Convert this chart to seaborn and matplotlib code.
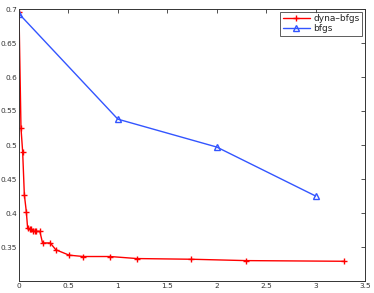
import matplotlib
matplotlib.use("Agg")
import matplotlib.pyplot as plt
import seaborn as sns

# values
dyna_x = [0.0, 0.02, 0.037, 0.054, 0.074, 0.087, 0.107, 0.12, 0.138, 0.161,
          0.174, 0.211, 0.238, 0.316, 0.372, 0.507, 0.651, 0.922, 1.194,
          1.744, 2.294, 3.29]
dyna_y = [0.695, 0.525, 0.490, 0.427, 0.402, 0.378, 0.377, 0.376, 0.374, 0.373,
          0.373, 0.373, 0.356, 0.356, 0.346, 0.338, 0.336, 0.336, 0.333,
          0.332, 0.330, 0.329]
bfgs_x = [0, 1, 2, 3]
bfgs_y = [0.693, 0.538, 0.497, 0.425]

sns.set_style("white")
plt.rcParams["font.family"] = ["DejaVu Sans"]
plt.rcParams["xtick.direction"] = "in"
plt.rcParams["ytick.direction"] = "in"

red = "#ff0000"
blue = "#3355ff"

fig = plt.figure(figsize=(3.74, 2.93), dpi=100)
ax = fig.add_axes([19 / 374, 12 / 293, 346 / 374, 272 / 293])

sns.lineplot(x=dyna_x, y=dyna_y, color=red, marker="+", sort=False,
             estimator=None, ax=ax, linewidth=1.0, markersize=5,
             markeredgewidth=1.0, markeredgecolor=red, label="dyna\u2013bfgs")
sns.lineplot(x=bfgs_x, y=bfgs_y, color=blue, marker="^", sort=False,
             estimator=None, ax=ax, linewidth=1.0, markersize=5,
             markeredgewidth=1.0, markerfacecolor="none",
             markeredgecolor=blue, label="bfgs")

ax.set_xlim(0, 3.5)
ax.set_ylim(0.3, 0.7)
ax.set_xticks([0, 0.5, 1, 1.5, 2, 2.5, 3, 3.5])
ax.set_xticklabels(["0", "0.5", "1", "1.5", "2", "2.5", "3", "3.5"])
ax.set_yticks([0.35, 0.4, 0.45, 0.5, 0.55, 0.6, 0.65, 0.7])
ax.set_yticklabels(["0.35", "0.4", "0.45", "0.5", "0.55", "0.6", "0.65", "0.7"])
ax.tick_params(labelsize=5.3, length=3, width=0.6, colors="#333333",
               top=True, right=True)
ax.tick_params(axis="x", pad=1.5)
ax.tick_params(axis="y", pad=1.2)
for sp in ax.spines.values():
    sp.set_color("#333333")
    sp.set_linewidth(0.7)

leg = ax.legend(loc="upper right", fontsize=6.5, frameon=True, fancybox=False,
                handlelength=3, borderpad=0.3, labelspacing=0.1,
                handletextpad=0.4, borderaxespad=0.3)
leg.get_frame().set_edgecolor("#333333")
leg.get_frame().set_linewidth(0.7)

fig.savefig("out.png", dpi=100)
